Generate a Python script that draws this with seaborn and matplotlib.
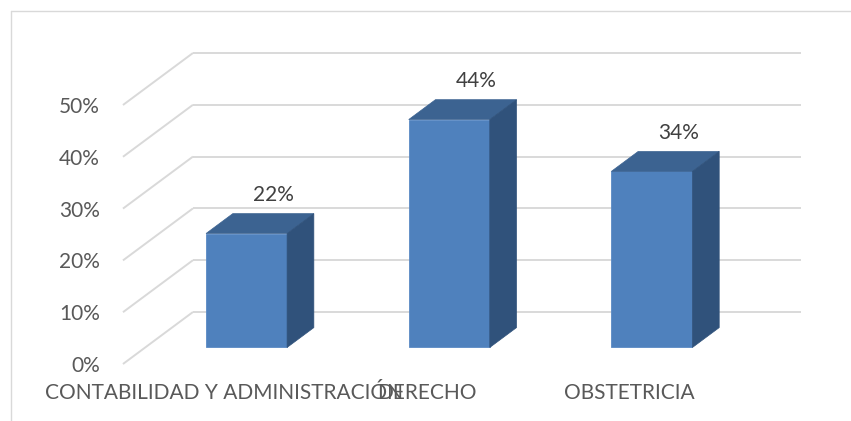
import numpy as np
import pandas as pd
import seaborn as sns
import matplotlib.pyplot as plt
from matplotlib.patches import Polygon
from matplotlib.lines import Line2D

# data
categories = ["CONTABILIDAD Y ADMINISTRACIÓN", "DERECHO", "OBSTETRICIA"]
values = [22, 44, 34]
value_labels = ["22%", "44%", "34%"]
yticks = [0, 10, 20, 30, 40, 50]
ytick_labels = ["0%", "10%", "20%", "30%", "40%", "50%"]

df = pd.DataFrame({"carrera": categories, "pct": values})

# colours (excel 3d column look)
front_c = "#4f81bd"
top_c = "#3c6391"
side_c = "#30527b"
grid_c = "#d9d9d9"
tick_c = "#595959"
label_c = "#404040"

sns.set_theme(style="white")
plt.rcParams["font.family"] = ["Lato", "DejaVu Sans"]

fig = plt.figure(figsize=(8.51, 4.21), dpi=100)
ax = fig.add_axes([0.1445, 0.1354, 0.7145, 0.6152])

sns.barplot(data=df, x="carrera", y="pct", color=front_c, saturation=1,
            width=0.4, ax=ax, zorder=3)
ax.set_xlim(-0.5, len(categories) - 0.5)
ax.set_ylim(0, 50)

# depth of the floor, 70px right and 52px up, turned into data units
o = ax.transData.transform((0, 0))
ddx, ddy = ax.transData.inverted().transform(o + np.array([70, 52]))

# back wall gridlines + the diagonals on the side wall
x_left, x_right = ax.get_xlim()
for t in yticks:
    ax.plot([x_left, x_left + ddx], [t, t + ddy], color=grid_c, lw=1.4,
            clip_on=False, zorder=1, solid_capstyle="butt")
    ax.plot([x_left + ddx, x_right + ddx], [t + ddy, t + ddy], color=grid_c,
            lw=1.4, clip_on=False, zorder=1, solid_capstyle="butt")

# push bars into the middle of the depth and add top / side faces
f0, f1 = 0.318, 0.70
d = f1 - f0
for p, lab in zip(ax.patches, value_labels):
    w = p.get_width()
    h = p.get_height()
    x0 = p.get_x() + f0 * ddx
    y0 = f0 * ddy
    p.set_x(x0)
    p.set_y(y0)
    p.set_clip_on(False)
    p.set_edgecolor("#5a8ac4")
    p.set_linewidth(0.6)
    top = Polygon([(x0, y0 + h), (x0 + w, y0 + h),
                   (x0 + w + d * ddx, y0 + h + d * ddy),
                   (x0 + d * ddx, y0 + h + d * ddy)],
                  closed=True, facecolor=top_c, edgecolor=top_c, lw=0.5,
                  clip_on=False, zorder=3)
    side = Polygon([(x0 + w, y0), (x0 + w + d * ddx, y0 + d * ddy),
                    (x0 + w + d * ddx, y0 + h + d * ddy), (x0 + w, y0 + h)],
                   closed=True, facecolor=side_c, edgecolor=side_c, lw=0.5,
                   clip_on=False, zorder=3)
    ax.add_patch(top)
    ax.add_patch(side)
    ax.annotate(lab, xy=(x0 + w / 2 + d * ddx, y0 + h + d * ddy),
                xytext=(0, 6), textcoords="offset points", ha="center",
                va="bottom", fontsize=15, color=label_c, annotation_clip=False)

ax.set_yticks(yticks)
ax.set_yticklabels(ytick_labels)
ax.set_xlabel("")
ax.set_ylabel("")
ax.tick_params(axis="y", length=0, pad=16.5, labelsize=15, labelcolor=tick_c)
ax.tick_params(axis="x", length=0, pad=14, labelsize=15, labelcolor=tick_c)
for s in ax.spines.values():
    s.set_visible(False)
ax.grid(False)

# chart area border (only top and left visible in the original crop)
fig.add_artist(Line2D([11 / 851, 1], [1 - 11 / 421, 1 - 11 / 421],
                      transform=fig.transFigure, color=grid_c, lw=1))
fig.add_artist(Line2D([11 / 851, 11 / 851], [1 - 11 / 421, 0],
                      transform=fig.transFigure, color=grid_c, lw=1))

fig.savefig("out.png", dpi=100)
